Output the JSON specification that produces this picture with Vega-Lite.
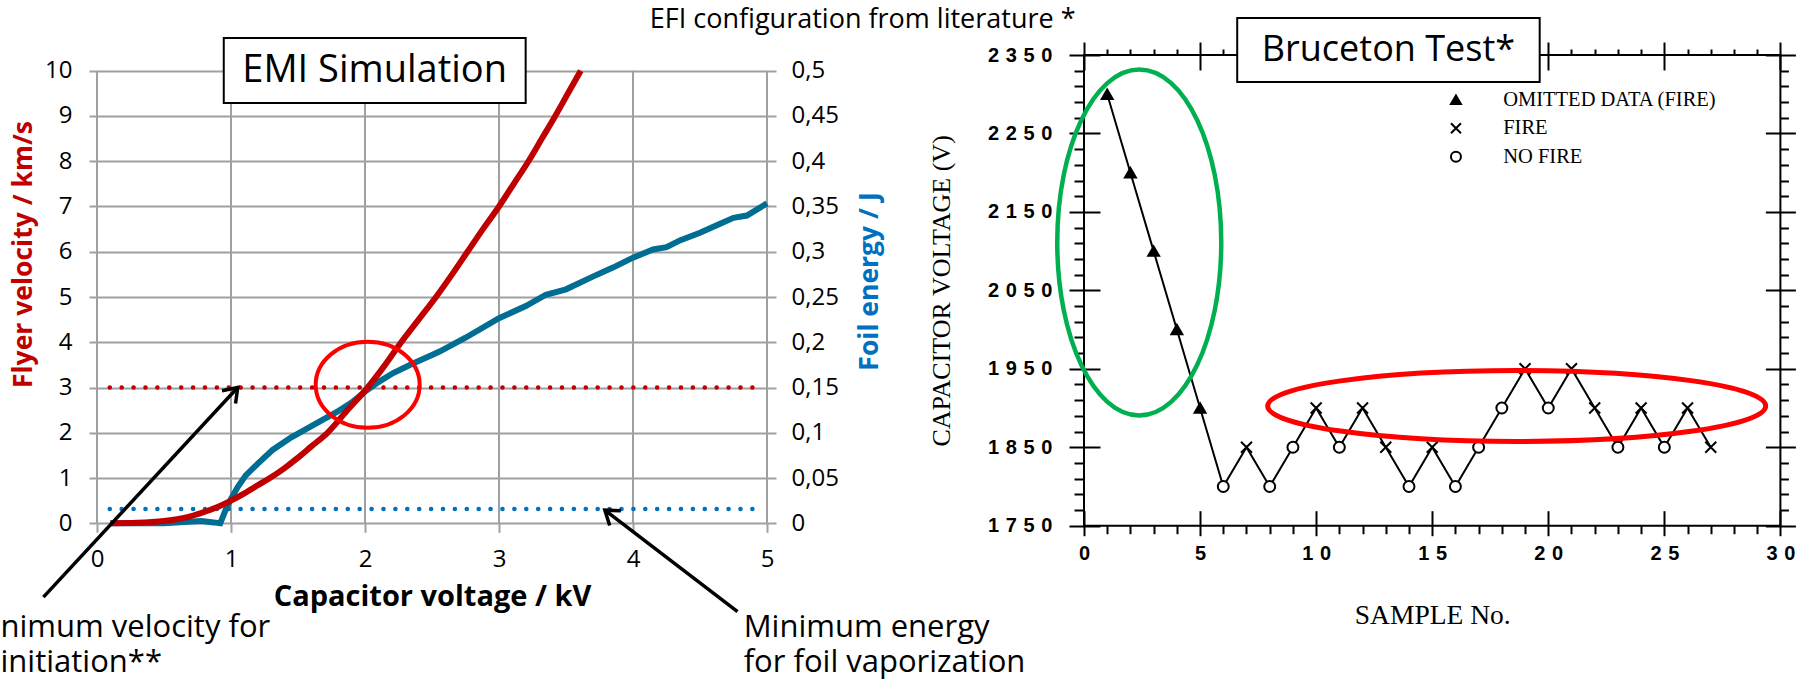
{
  "$schema": "https://vega.github.io/schema/vega-lite/v6.json",
  "background": "white",
  "padding": {"left": 0, "top": 6, "right": 0, "bottom": 4},
  "config": {"view": {"stroke": null}, "axis": {"labelFlush": false, "labelOverlap": false}},
  "resolve": {"legend": {"shape": "independent", "fill": "independent", "stroke": "independent"}},
  "datasets": {
    "gridx": [{"kv": 0}, {"kv": 1}, {"kv": 2}, {"kv": 3}, {"kv": 4}, {"kv": 5}],
    "velocity": [
      {"kv": 0.1, "v": 0}, {"kv": 0.3, "v": 0.01}, {"kv": 0.5, "v": 0.05}, {"kv": 0.65, "v": 0.12},
      {"kv": 0.8, "v": 0.25}, {"kv": 0.9, "v": 0.36}, {"kv": 1.0, "v": 0.5}, {"kv": 1.1, "v": 0.66},
      {"kv": 1.2, "v": 0.84}, {"kv": 1.29, "v": 1.0}, {"kv": 1.4, "v": 1.22}, {"kv": 1.5, "v": 1.45},
      {"kv": 1.6, "v": 1.7}, {"kv": 1.72, "v": 2.0}, {"kv": 1.86, "v": 2.47}, {"kv": 2.02, "v": 3.0},
      {"kv": 2.15, "v": 3.5}, {"kv": 2.27, "v": 4.0}, {"kv": 2.4, "v": 4.5}, {"kv": 2.53, "v": 5.0},
      {"kv": 2.65, "v": 5.5}, {"kv": 2.765, "v": 6.0}, {"kv": 2.88, "v": 6.5}, {"kv": 3.0, "v": 7.0},
      {"kv": 3.11, "v": 7.5}, {"kv": 3.22, "v": 8.0}, {"kv": 3.32, "v": 8.5}, {"kv": 3.42, "v": 9.0},
      {"kv": 3.515, "v": 9.5}, {"kv": 3.61, "v": 10.0}
    ],
    "energy": [
      {"kv": 0.1, "e": 0}, {"kv": 0.5, "e": 0}, {"kv": 0.65, "e": 0.0015}, {"kv": 0.78, "e": 0.0025},
      {"kv": 0.87, "e": 0.001}, {"kv": 0.92, "e": 0}, {"kv": 0.97, "e": 0.0185}, {"kv": 1.0, "e": 0.027},
      {"kv": 1.05, "e": 0.04}, {"kv": 1.11, "e": 0.053}, {"kv": 1.2, "e": 0.066}, {"kv": 1.31, "e": 0.081},
      {"kv": 1.45, "e": 0.095}, {"kv": 1.56, "e": 0.104}, {"kv": 1.68, "e": 0.114}, {"kv": 1.79, "e": 0.123},
      {"kv": 1.9, "e": 0.1335}, {"kv": 2.0, "e": 0.1455}, {"kv": 2.1, "e": 0.156}, {"kv": 2.21, "e": 0.166},
      {"kv": 2.35, "e": 0.176}, {"kv": 2.5, "e": 0.186}, {"kv": 2.56, "e": 0.19}, {"kv": 2.75, "e": 0.205},
      {"kv": 3.0, "e": 0.2265}, {"kv": 3.2, "e": 0.24}, {"kv": 3.35, "e": 0.2525}, {"kv": 3.5, "e": 0.2585},
      {"kv": 3.7, "e": 0.2725}, {"kv": 3.85, "e": 0.2825}, {"kv": 4.0, "e": 0.2935}, {"kv": 4.15, "e": 0.3025},
      {"kv": 4.25, "e": 0.305}, {"kv": 4.35, "e": 0.3125}, {"kv": 4.5, "e": 0.321}, {"kv": 4.65, "e": 0.331},
      {"kv": 4.75, "e": 0.3375}, {"kv": 4.85, "e": 0.34}, {"kv": 5.0, "e": 0.3535}
    ],
    "velocityThreshold": [{"kv0": 0.095, "kv1": 4.95, "v": 3}],
    "energyThreshold": [{"kv0": 0.095, "kv1": 4.95, "e": 0.0158}],
    "circleNote": [{"kv": 2.02, "v": 3.06}],
    "arrows": [
      {"x0": -0.40, "y0": -1.63, "x1": 1.05, "y1": 3.0, "heading": 42.9},
      {"x0": 4.78, "y0": -1.95, "x1": 3.79, "y1": 0.29, "heading": 307.3}
    ],
    "emiBox": [{"x0": 0.946, "x1": 3.199, "y0": 9.286, "y1": 10.72, "xc": 2.072, "yc": 10.003, "label": "EMI Simulation"}],
    "notes": [
      {"kv": -0.72, "v": -2.519, "text": "nimum velocity for\ninitiation**"},
      {"kv": 4.826, "v": -2.519, "text": "Minimum energy\nfor foil vaporization"}
    ],
    "heading": [{"kv": 5.714, "v": 10.937, "text": "EFI configuration from literature *"}],
    "bruceton": [
      {"sample": 1, "voltage": 2300, "result": "OMITTED DATA (FIRE)"},
      {"sample": 2, "voltage": 2200, "result": "OMITTED DATA (FIRE)"},
      {"sample": 3, "voltage": 2100, "result": "OMITTED DATA (FIRE)"},
      {"sample": 4, "voltage": 2000, "result": "OMITTED DATA (FIRE)"},
      {"sample": 5, "voltage": 1900, "result": "OMITTED DATA (FIRE)"},
      {"sample": 6, "voltage": 1800, "result": "NO FIRE"},
      {"sample": 7, "voltage": 1850, "result": "FIRE"},
      {"sample": 8, "voltage": 1800, "result": "NO FIRE"},
      {"sample": 9, "voltage": 1850, "result": "NO FIRE"},
      {"sample": 10, "voltage": 1900, "result": "FIRE"},
      {"sample": 11, "voltage": 1850, "result": "NO FIRE"},
      {"sample": 12, "voltage": 1900, "result": "FIRE"},
      {"sample": 13, "voltage": 1850, "result": "FIRE"},
      {"sample": 14, "voltage": 1800, "result": "NO FIRE"},
      {"sample": 15, "voltage": 1850, "result": "FIRE"},
      {"sample": 16, "voltage": 1800, "result": "NO FIRE"},
      {"sample": 17, "voltage": 1850, "result": "NO FIRE"},
      {"sample": 18, "voltage": 1900, "result": "NO FIRE"},
      {"sample": 19, "voltage": 1950, "result": "FIRE"},
      {"sample": 20, "voltage": 1900, "result": "NO FIRE"},
      {"sample": 21, "voltage": 1950, "result": "FIRE"},
      {"sample": 22, "voltage": 1900, "result": "FIRE"},
      {"sample": 23, "voltage": 1850, "result": "NO FIRE"},
      {"sample": 24, "voltage": 1900, "result": "FIRE"},
      {"sample": 25, "voltage": 1850, "result": "NO FIRE"},
      {"sample": 26, "voltage": 1900, "result": "FIRE"},
      {"sample": 27, "voltage": 1850, "result": "FIRE"}
    ],
    "greenMark": [{"sample": 2.38, "voltage": 2111}],
    "redMark": [{"sample": 18.64, "voltage": 1902.6}],
    "brucetonBox": [{"s0": 6.6, "s1": 19.63, "v0": 2315.6, "v1": 2397.2, "sc": 13.115, "vc": 2356.4, "label": "Bruceton Test*"}]
  },
  "spacing": 317,
  "bounds": "flush",
  "hconcat": [
    {
      "width": 670,
      "height": 468.3,
      "view": {"stroke": null},
      "resolve": {"scale": {"y": "independent"}, "axis": {"x": "independent", "y": "independent"}},
      "layer": [
        {
          "data": {"name": "gridx"},
          "mark": {"type": "rule", "color": "#a0a0a0", "strokeWidth": 2},
          "encoding": {
            "x": {"field": "kv", "type": "quantitative", "scale": {"domain": [0, 5], "nice": false, "zero": false},
              "axis": {"orient": "bottom", "values": [0, 1, 2, 3, 4, 5], "grid": false, "domain": false,
                "tickColor": "#a0a0a0", "tickWidth": 2, "tickSize": 9, "labelPadding": 15,
                "labelFont": "Open Sans", "labelFontSize": 24, "labelColor": "black",
                "title": "Capacitor voltage / kV", "titleFont": "Open Sans", "titleFontWeight": "bold", "titleFontSize": 29,
                "titleColor": "black", "titleBaseline": "middle", "titleX": 335, "titleY": 73.4}},
            "y": {"datum": 0, "type": "quantitative", "scale": {"domain": [0, 10.347], "nice": false, "zero": false},
              "axis": {"orient": "left", "values": [0, 1, 2, 3, 4, 5, 6, 7, 8, 9, 10], "grid": true, "gridColor": "#a0a0a0", "gridWidth": 2,
                "domain": false, "tickColor": "#a0a0a0", "tickWidth": 2, "tickSize": 8, "labelPadding": 17,
                "labelFont": "Open Sans", "labelFontSize": 24, "labelColor": "black",
                "title": "Flyer velocity / km/s", "titleFont": "Open Sans", "titleFontWeight": "bold", "titleFontSize": 26.5,
                "titleColor": "#C00000", "titleAngle": 270, "titleBaseline": "middle", "titleX": -74, "titleY": 199}},
            "y2": {"datum": 10}
          }
        },
        {
          "data": {"name": "velocityThreshold"},
          "mark": {"type": "rule", "color": "#C00000", "strokeWidth": 4.5, "strokeDash": [0.1, 11.8], "strokeCap": "round"},
          "encoding": {
            "x": {"field": "kv0", "type": "quantitative", "scale": {"domain": [0, 5], "nice": false, "zero": false}, "axis": null},
            "x2": {"field": "kv1"},
            "y": {"field": "v", "type": "quantitative", "scale": {"domain": [0, 10.347], "nice": false, "zero": false}, "axis": null}
          }
        },
        {
          "data": {"name": "energyThreshold"},
          "mark": {"type": "rule", "color": "#0070C0", "strokeWidth": 4.5, "strokeDash": [0.1, 11.8], "strokeCap": "round"},
          "encoding": {
            "x": {"field": "kv0", "type": "quantitative", "scale": {"domain": [0, 5], "nice": false, "zero": false}, "axis": null},
            "x2": {"field": "kv1"},
            "y": {"field": "e", "type": "quantitative", "scale": {"domain": [0, 0.51735], "nice": false, "zero": false}, "axis": null}
          }
        },
        {
          "data": {"name": "energy"},
          "mark": {"type": "line", "color": "#006d92", "strokeWidth": 6},
          "encoding": {
            "x": {"field": "kv", "type": "quantitative", "scale": {"domain": [0, 5], "nice": false, "zero": false}, "axis": null},
            "y": {"field": "e", "type": "quantitative", "scale": {"domain": [0, 0.51735], "nice": false, "zero": false},
              "axis": {"orient": "right", "values": [0, 0.05, 0.1, 0.15, 0.2, 0.25, 0.3, 0.35, 0.4, 0.45, 0.5], "grid": false,
                "domain": false, "tickColor": "#a0a0a0", "tickWidth": 2, "tickSize": 9, "labelPadding": 15,
                "labelFont": "Open Sans", "labelFontSize": 24, "labelColor": "black",
                "labelExpr": "replace(format(datum.value, '.2~f'), '.', ',')",
                "title": "Foil energy / J", "titleFont": "Open Sans", "titleFontWeight": "bold", "titleFontSize": 26.5,
                "titleColor": "#0070C0", "titleAngle": 270, "titleBaseline": "middle", "titleX": 102.7, "titleY": 226}}
          }
        },
        {
          "data": {"name": "velocity"},
          "mark": {"type": "line", "color": "#C00000", "strokeWidth": 6, "interpolate": "monotone"},
          "encoding": {
            "x": {"field": "kv", "type": "quantitative", "scale": {"domain": [0, 5], "nice": false, "zero": false}, "axis": null},
            "y": {"field": "v", "type": "quantitative", "scale": {"domain": [0, 10.347], "nice": false, "zero": false}, "axis": null}
          }
        },
        {
          "data": {"name": "circleNote"},
          "mark": {"type": "point", "shape": "M-1,0A1,0.827,0,1,0,1,0A1,0.827,0,1,0,-1,0", "size": 10816, "filled": false, "stroke": "#FF0000", "strokeWidth": 4, "opacity": 1},
          "encoding": {
            "x": {"field": "kv", "type": "quantitative", "scale": {"domain": [0, 5], "nice": false, "zero": false}, "axis": null},
            "y": {"field": "v", "type": "quantitative", "scale": {"domain": [0, 10.347], "nice": false, "zero": false}, "axis": null}
          }
        },
        {
          "data": {"name": "arrows"},
          "mark": {"type": "rule", "color": "black", "strokeWidth": 3.5},
          "encoding": {
            "x": {"field": "x0", "type": "quantitative", "scale": {"domain": [0, 5], "nice": false, "zero": false}, "axis": null},
            "x2": {"field": "x1"},
            "y": {"field": "y0", "type": "quantitative", "scale": {"domain": [0, 10.347], "nice": false, "zero": false}, "axis": null},
            "y2": {"field": "y1"}
          }
        },
        {
          "data": {"name": "arrows"},
          "mark": {"type": "point", "shape": "M-0.6,0.85L0,0L0.6,0.85", "size": 950, "filled": false, "stroke": "black", "strokeWidth": 3.5, "opacity": 1},
          "encoding": {
            "x": {"field": "x1", "type": "quantitative", "scale": {"domain": [0, 5], "nice": false, "zero": false}, "axis": null},
            "y": {"field": "y1", "type": "quantitative", "scale": {"domain": [0, 10.347], "nice": false, "zero": false}, "axis": null},
            "angle": {"field": "heading", "type": "quantitative", "scale": null}
          }
        },
        {
          "data": {"name": "emiBox"},
          "mark": {"type": "rect", "fill": "white", "stroke": "black", "strokeWidth": 2},
          "encoding": {
            "x": {"field": "x0", "type": "quantitative", "scale": {"domain": [0, 5], "nice": false, "zero": false}, "axis": null},
            "x2": {"field": "x1"},
            "y": {"field": "y0", "type": "quantitative", "scale": {"domain": [0, 10.347], "nice": false, "zero": false}, "axis": null},
            "y2": {"field": "y1"}
          }
        },
        {
          "data": {"name": "emiBox"},
          "mark": {"type": "text", "font": "Open Sans", "fontSize": 38, "color": "black", "align": "center", "baseline": "middle"},
          "encoding": {
            "x": {"field": "xc", "type": "quantitative", "scale": {"domain": [0, 5], "nice": false, "zero": false}, "axis": null},
            "y": {"field": "yc", "type": "quantitative", "scale": {"domain": [0, 10.347], "nice": false, "zero": false}, "axis": null},
            "text": {"field": "label"}
          }
        },
        {
          "data": {"name": "notes"},
          "mark": {"type": "text", "font": "Open Sans", "fontSize": 31, "color": "black", "align": "left", "baseline": "alphabetic", "lineBreak": "\n", "lineHeight": 34.4},
          "encoding": {
            "x": {"field": "kv", "type": "quantitative", "scale": {"domain": [0, 5], "nice": false, "zero": false}, "axis": null},
            "y": {"field": "v", "type": "quantitative", "scale": {"domain": [0, 10.347], "nice": false, "zero": false}, "axis": null},
            "text": {"field": "text"}
          }
        },
        {
          "data": {"name": "heading"},
          "mark": {"type": "text", "font": "Open Sans", "fontSize": 27, "color": "black", "align": "center", "baseline": "alphabetic"},
          "encoding": {
            "x": {"field": "kv", "type": "quantitative", "scale": {"domain": [0, 5], "nice": false, "zero": false}, "axis": null},
            "y": {"field": "v", "type": "quantitative", "scale": {"domain": [0, 10.347], "nice": false, "zero": false}, "axis": null},
            "text": {"field": "text"}
          }
        }
      ]
    },
    {
      "width": 696.4,
      "height": 470.7,
      "view": {"stroke": "black", "strokeWidth": 2},
      "resolve": {"axis": {"x": "independent", "y": "independent"}},
      "layer": [
        {
          "data": {"name": "bruceton"},
          "mark": {"type": "line", "color": "black", "strokeWidth": 2},
          "encoding": {
            "x": {"field": "sample", "type": "quantitative", "scale": {"domain": [0, 30], "nice": false, "zero": false},
              "axis": {"orient": "bottom", "values": [0, 5, 10, 15, 20, 25, 30], "format": "d", "offset": -15, "tickSize": 25,
                "tickWidth": 2, "tickColor": "black", "domain": false, "grid": false, "labelPadding": 8,
                "labelFont": "Liberation Sans", "labelFontWeight": "bold", "labelFontSize": 20, "labelColor": "black",
                "labelExpr": "join(split(datum.label, ''), '\u2004')",
                "title": "SAMPLE No.", "titleFont": "Liberation Serif", "titleFontWeight": "normal", "titleFontSize": 27.5,
                "titleColor": "black", "titleBaseline": "middle", "titleX": 348.2, "titleY": 104.3}},
            "y": {"field": "voltage", "type": "quantitative", "scale": {"domain": [1750, 2350], "nice": false, "zero": false},
              "axis": {"orient": "left", "values": [1750, 1850, 1950, 2050, 2150, 2250, 2350], "format": "d", "offset": -16, "tickSize": 31,
                "tickWidth": 2, "tickColor": "black", "domain": false, "grid": false, "labelPadding": 17,
                "labelFont": "Liberation Sans", "labelFontWeight": "bold", "labelFontSize": 20, "labelColor": "black",
                "labelExpr": "join(split(datum.label, ''), '\u2004')",
                "title": "CAPACITOR VOLTAGE (V)", "titleFont": "Liberation Serif", "titleFontWeight": "normal", "titleFontSize": 26,
                "titleColor": "black", "titleAngle": 270, "titleBaseline": "middle", "titleX": -158.3, "titleY": 235.4}}
          }
        },
        {
          "data": {"name": "bruceton"},
          "mark": {"type": "point", "filled": true, "strokeWidth": 2, "size": 120, "opacity": 1},
          "encoding": {
            "x": {"field": "sample", "type": "quantitative", "scale": {"domain": [0, 30], "nice": false, "zero": false},
              "axis": {"orient": "top", "values": [0, 5, 10, 15, 20, 25, 30], "offset": -15, "tickSize": 28, "tickWidth": 2,
                "tickColor": "black", "domain": false, "grid": false, "labels": false, "title": null}},
            "y": {"field": "voltage", "type": "quantitative", "scale": {"domain": [1750, 2350], "nice": false, "zero": false},
              "axis": {"orient": "right", "values": [1750, 1850, 1950, 2050, 2150, 2250, 2350], "offset": -15, "tickSize": 30, "tickWidth": 2,
                "tickColor": "black", "domain": false, "grid": false, "labels": false, "title": null}},
            "shape": {"field": "result", "type": "nominal",
              "scale": {"domain": ["OMITTED DATA (FIRE)", "FIRE", "NO FIRE"], "range": ["triangle-up", "M-1,-1L1,1M-1,1L1,-1", "circle"]},
              "legend": {"orient": "none", "legendX": 361.7, "legendY": 34.5, "direction": "vertical", "title": null,
                "labelFont": "Liberation Serif", "labelFontSize": 20.5, "labelColor": "black", "labelOffset": 37, "labelLimit": 0,
                "rowPadding": 7.5, "symbolSize": 100, "symbolStrokeWidth": 2, "padding": 0}},
            "fill": {"field": "result", "type": "nominal",
              "scale": {"domain": ["OMITTED DATA (FIRE)", "FIRE", "NO FIRE"], "range": ["black", "black", "white"]},
              "legend": {"orient": "none", "legendX": 361.7, "legendY": 34.5, "direction": "vertical", "title": null,
                "labelFont": "Liberation Serif", "labelFontSize": 20.5, "labelColor": "black", "labelOffset": 37, "labelLimit": 0,
                "rowPadding": 7.5, "symbolSize": 100, "symbolStrokeWidth": 2, "padding": 0}},
            "stroke": {"field": "result", "type": "nominal",
              "scale": {"domain": ["OMITTED DATA (FIRE)", "FIRE", "NO FIRE"], "range": ["black", "black", "black"]},
              "legend": {"orient": "none", "legendX": 361.7, "legendY": 34.5, "direction": "vertical", "title": null,
                "labelFont": "Liberation Serif", "labelFontSize": 20.5, "labelColor": "black", "labelOffset": 37, "labelLimit": 0,
                "rowPadding": 7.5, "symbolSize": 100, "symbolStrokeWidth": 2, "padding": 0}}
          }
        },
        {
          "data": {"name": "bruceton"},
          "mark": {"type": "point", "opacity": 0},
          "encoding": {
            "x": {"field": "sample", "type": "quantitative", "scale": {"domain": [0, 30], "nice": false, "zero": false},
              "axis": {"orient": "bottom", "values": [1, 2, 3, 4, 6, 7, 8, 9, 11, 12, 13, 14, 16, 17, 18, 19, 21, 22, 23, 24, 26, 27, 28, 29],
                "tickSize": 8, "tickWidth": 2, "tickColor": "black", "domain": false, "grid": false, "labels": false, "title": null}},
            "y": {"field": "voltage", "type": "quantitative", "scale": {"domain": [1750, 2350], "nice": false, "zero": false},
              "axis": {"orient": "left", "values": [1770, 1790, 1810, 1830, 1870, 1890, 1910, 1930, 1970, 1990, 2010, 2030, 2070, 2090, 2110, 2130, 2170, 2190, 2210, 2230, 2270, 2290, 2310, 2330],
                "tickSize": 10, "tickWidth": 2, "tickColor": "black", "domain": false, "grid": false, "labels": false, "title": null}}
          }
        },
        {
          "data": {"name": "bruceton"},
          "mark": {"type": "point", "opacity": 0},
          "encoding": {
            "x": {"field": "sample", "type": "quantitative", "scale": {"domain": [0, 30], "nice": false, "zero": false},
              "axis": {"orient": "top", "values": [1, 2, 3, 4, 6, 7, 8, 9, 11, 12, 13, 14, 16, 17, 18, 19, 21, 22, 23, 24, 26, 27, 28, 29],
                "tickSize": 6, "tickWidth": 2, "tickColor": "black", "domain": false, "grid": false, "labels": false, "title": null}},
            "y": {"field": "voltage", "type": "quantitative", "scale": {"domain": [1750, 2350], "nice": false, "zero": false},
              "axis": {"orient": "right", "values": [1770, 1790, 1810, 1830, 1870, 1890, 1910, 1930, 1970, 1990, 2010, 2030, 2070, 2090, 2110, 2130, 2170, 2190, 2210, 2230, 2270, 2290, 2310, 2330],
                "tickSize": 8, "tickWidth": 2, "tickColor": "black", "domain": false, "grid": false, "labels": false, "title": null}}
          }
        },
        {
          "data": {"name": "greenMark"},
          "mark": {"type": "point", "shape": "M-0.474,0A0.474,1,0,1,0,0.474,0A0.474,1,0,1,0,-0.474,0", "size": 119716, "filled": false, "stroke": "#00B050", "strokeWidth": 4.5, "opacity": 1},
          "encoding": {
            "x": {"field": "sample", "type": "quantitative", "scale": {"domain": [0, 30], "nice": false, "zero": false}, "axis": null},
            "y": {"field": "voltage", "type": "quantitative", "scale": {"domain": [1750, 2350], "nice": false, "zero": false}, "axis": null}
          }
        },
        {
          "data": {"name": "redMark"},
          "mark": {"type": "point", "shape": "M-1,0A1,0.1426,0,1,0,1,0A1,0.1426,0,1,0,-1,0", "size": 248004, "filled": false, "stroke": "#FF0000", "strokeWidth": 5, "opacity": 1},
          "encoding": {
            "x": {"field": "sample", "type": "quantitative", "scale": {"domain": [0, 30], "nice": false, "zero": false}, "axis": null},
            "y": {"field": "voltage", "type": "quantitative", "scale": {"domain": [1750, 2350], "nice": false, "zero": false}, "axis": null}
          }
        },
        {
          "data": {"name": "brucetonBox"},
          "mark": {"type": "rect", "fill": "white", "stroke": "black", "strokeWidth": 2},
          "encoding": {
            "x": {"field": "s0", "type": "quantitative", "scale": {"domain": [0, 30], "nice": false, "zero": false}, "axis": null},
            "x2": {"field": "s1"},
            "y": {"field": "v0", "type": "quantitative", "scale": {"domain": [1750, 2350], "nice": false, "zero": false}, "axis": null},
            "y2": {"field": "v1"}
          }
        },
        {
          "data": {"name": "brucetonBox"},
          "mark": {"type": "text", "font": "Open Sans", "fontSize": 36, "color": "black", "align": "center", "baseline": "middle"},
          "encoding": {
            "x": {"field": "sc", "type": "quantitative", "scale": {"domain": [0, 30], "nice": false, "zero": false}, "axis": null},
            "y": {"field": "vc", "type": "quantitative", "scale": {"domain": [1750, 2350], "nice": false, "zero": false}, "axis": null},
            "text": {"field": "label"}
          }
        }
      ]
    }
  ]
}
